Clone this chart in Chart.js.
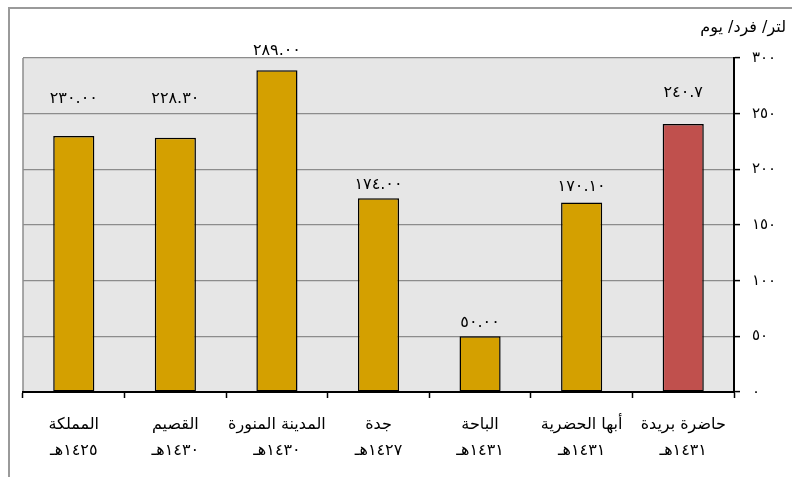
<!DOCTYPE html>
<html lang="ar">
<head>
<meta charset="utf-8">
<script src="https://cdn.jsdelivr.net/npm/chart.js@4"></script>
<style>
    html, body { margin: 0; padding: 0; background: #fff; }
    #wrap { width: 792px; height: 477px; position: relative; }
</style>
</head>
<body>
<div id="wrap"><canvas id="waterChart" width="792" height="477"></canvas></div>
<script>
// data
const cities = ["المملكة", "القصيم", "المدينة المنورة", "جدة", "الباحة", "أبها الحضرية", "حاضرة بريدة"];
const years = ["١٤٢٥هـ", "١٤٣٠هـ", "١٤٣٠هـ", "١٤٢٧هـ", "١٤٣١هـ", "١٤٣١هـ", "١٤٣١هـ"];
const consumption = [230.0, 228.3, 289.0, 174.0, 50.0, 170.1, 240.7];
const decimals = [2, 2, 2, 2, 2, 2, 1];
const yTicks = [0, 50, 100, 150, 200, 250, 300];
const unitLabel = "لتر/ فرد/ يوم";

// gap (px) between bar top and value label, as placed in the original
const labelGap = [37, 39, 19, 13, 13, 16, 31];

const barColors = ["#D4A000", "#D4A000", "#D4A000", "#D4A000", "#D4A000", "#D4A000", "#C0504D"];

function arabicDigits(str) {
    return String(str).replace(/[0-9]/g, (d) => "٠١٢٣٤٥٦٧٨٩"[d]);
}

const chartDecor = {
    id: "chartDecor",
    beforeDraw(chart) {
        const { ctx, chartArea } = chart;
        ctx.save();
        // outer frame (left + top)
        ctx.fillStyle = "#9a9a9a";
        ctx.fillRect(8, 7, 2, chart.height);
        ctx.fillRect(8, 7, chart.width, 2);
        // plot background
        ctx.fillStyle = "#E6E6E6";
        ctx.fillRect(chartArea.left, chartArea.top, chartArea.right - chartArea.left, chartArea.bottom - chartArea.top);
        ctx.strokeStyle = "#8c8c8c";
        ctx.lineWidth = 1.5;
        ctx.beginPath();
        ctx.moveTo(chartArea.left, chartArea.top);
        ctx.lineTo(chartArea.left, chartArea.bottom);
        ctx.stroke();
        ctx.restore();
    },
    afterDatasetsDraw(chart) {
        const { ctx } = chart;
        const meta = chart.getDatasetMeta(0);
        ctx.save();
        ctx.fillStyle = "#000";
        ctx.font = "16px 'DejaVu Sans'";
        ctx.letterSpacing = "1.5px";
        ctx.textAlign = "center";
        ctx.textBaseline = "middle";
        meta.data.forEach((bar, i) => {
            const txt = arabicDigits(consumption[i].toFixed(decimals[i]));
            ctx.fillText(txt, bar.x, bar.y - labelGap[i]);
        });
        // unit title
        ctx.letterSpacing = "0px";
        ctx.font = "16px 'DejaVu Sans'";
        ctx.textAlign = "right";
        ctx.fillText(unitLabel, 786, 28);
        ctx.restore();
    },
};

document.addEventListener("DOMContentLoaded", function () {
    const ctx = document.getElementById("waterChart").getContext("2d");
    new Chart(ctx, {
        type: "bar",
        data: {
            labels: cities.map((c, i) => [c, years[i]]),
            datasets: [
                {
                    data: consumption,
                    backgroundColor: barColors,
                    borderColor: "#000",
                    borderWidth: 1.5,
                    borderSkipped: false,
                    categoryPercentage: 1,
                    barPercentage: 0.405,
                },
            ],
        },
        options: {
            responsive: false,
            animation: false,
            layout: {
                padding: { left: 23, top: 58, right: 0, bottom: 0 },
            },
            plugins: {
                legend: { display: false },
                tooltip: { enabled: false },
            },
            scales: {
                x: {
                    offset: true,
                    grid: {
                        offset: true,
                        drawOnChartArea: false,
                        tickLength: 6,
                        tickColor: "#000",
                        tickWidth: 1.5,
                    },
                    border: { color: "#000", width: 2 },
                    ticks: {
                        color: "#000",
                        padding: 14,
                        maxRotation: 0,
                        autoSkip: false,
                        font: { family: "'DejaVu Sans'", size: 16, lineHeight: 1.6 },
                    },
                    afterFit: (scale) => { scale.height = 85; },
                },
                y: {
                    position: "right",
                    min: 0,
                    max: 300,
                    afterBuildTicks: (scale) => {
                        scale.ticks = yTicks.map((v) => ({ value: v }));
                    },
                    grid: {
                        color: "#8c8c8c",
                        lineWidth: 1.2,
                        tickLength: 6,
                        tickColor: "#000",
                        tickWidth: 1.5,
                    },
                    border: { color: "#000", width: 2 },
                    ticks: {
                        color: "#000",
                        padding: 12,
                        font: { family: "'DejaVu Sans'", size: 15 },
                        callback: (v) => arabicDigits(v),
                    },
                    afterFit: (scale) => { scale.width = 58; },
                },
            },
        },
        plugins: [chartDecor],
    });
});
</script>
</body>
</html>
